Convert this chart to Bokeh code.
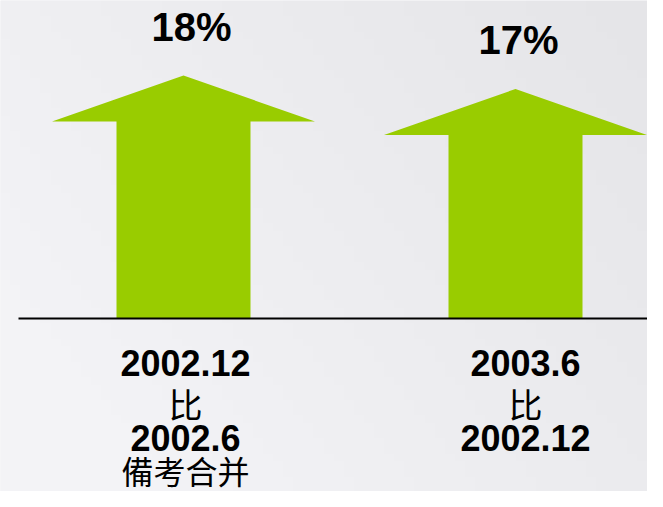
import numpy as np
from bokeh.plotting import figure
from bokeh.models import ColumnDataSource, Range1d
from bokeh.core.properties import value
from bokeh.embed import file_html
from bokeh.resources import INLINE

# ---- data ----
categories = [0, 1]
values = [18, 17]
top_labels = ["18%", "17%"]
line1 = ["2002.12", "2003.6"]
line2 = ["比", "比"]
line3 = ["2002.6", "2002.12"]
line4 = ["備考合并", ""]

# ---- layout constants (pixels of the page) ----
W, H = 647, 491
PX_X = 332.0          # pixels per category step
PX_Y = 13.5           # pixels per percent
CX0 = 183             # frame x of first category
BASE = 318            # frame y of baseline

x_start = -CX0 / PX_X
x_end = (W - CX0) / PX_X
y_end = BASE / PX_Y
y_start = -(H - BASE) / PX_Y

SHAFT = 67 / PX_X
HEAD = 131.5 / PX_X
HEAD_H = 46 / PX_Y
GREEN = "#99cc00"

p = figure(width=W, height=H, output_backend="svg", toolbar_location=None,
           x_range=Range1d(x_start, x_end), y_range=Range1d(y_start, y_end),
           min_border=0)
p.axis.visible = False
p.grid.visible = False
p.outline_line_color = None
p.background_fill_color = "#eeeef1"
p.border_fill_color = "#eeeef1"

# subtle background gradient
gx = np.linspace(0, 1, 64)
gy = np.linspace(0, 1, 64)
GX, GY = np.meshgrid(gx, gy)
shade = 243 - 14 * np.clip(0.75 * GX + 0.45 * GY - 0.2, 0, 1)
img = np.empty((64, 64), dtype=np.uint32)
view = img.view(dtype=np.uint8).reshape((64, 64, 4))
view[:, :, 0] = shade.astype(np.uint8)
view[:, :, 1] = shade.astype(np.uint8)
view[:, :, 2] = (shade + 3).clip(0, 255).astype(np.uint8)
view[:, :, 3] = 255
p.image_rgba(image=[img], x=x_start, y=y_start, dw=x_end - x_start, dh=y_end - y_start)

# arrows
xs, ys = [], []
for c, v in zip(categories, values):
    xs.append([c - SHAFT, c - SHAFT, c - HEAD, c, c + HEAD, c + SHAFT, c + SHAFT])
    ys.append([0, v - HEAD_H, v - HEAD_H, v, v - HEAD_H, v - HEAD_H, 0])
p.patches(xs, ys, fill_color=GREEN, line_color=None)

# baseline
p.segment(x0=[(18 - CX0) / PX_X], y0=[0], x1=[x_end], y1=[0], line_color="black", line_width=2)

top_dx = [8, 3]
bot_dx = [2, 10]
src = ColumnDataSource(dict(x=categories, v=values, top=top_labels, l1=line1, l2=line2,
                            l3=line3, l4=line4, zero=[0, 0], tdx=top_dx, bdx=bot_dx))

latin = value("Liberation Sans")
cjk = value("Noto Sans CJK SC")

p.text(x="x", y="v", text="top", source=src, x_offset="tdx", y_offset=-49,
       text_font=latin, text_font_style="bold", text_font_size="40px",
       text_align="center", text_baseline="alphabetic", text_color="black")

p.text(x="x", y="zero", text="l1", source=src, x_offset="bdx", y_offset=44,
       text_font=latin, text_font_style="bold", text_font_size="36px",
       text_align="center", text_baseline="alphabetic", text_color="black")
p.text(x="x", y="zero", text="l2", source=src, x_offset="bdx", y_offset=85,
       text_font=cjk, text_font_size="34px",
       text_align="center", text_baseline="middle", text_color="black")
p.text(x="x", y="zero", text="l3", source=src, x_offset="bdx", y_offset=119,
       text_font=latin, text_font_style="bold", text_font_size="36px",
       text_align="center", text_baseline="alphabetic", text_color="black")
p.text(x="x", y="zero", text="l4", source=src, x_offset="bdx", y_offset=151,
       text_font=cjk, text_font_size="32px",
       text_align="center", text_baseline="middle", text_color="black")

open("out.html", "w").write(file_html(p, INLINE))
